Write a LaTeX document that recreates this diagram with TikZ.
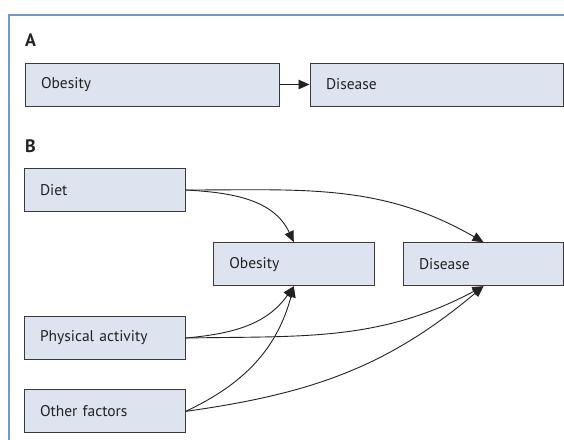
\documentclass[tikz,border=0pt]{standalone}
\usepackage{fontspec}
\setmainfont{PT Sans}
\usetikzlibrary{arrows.meta}
\definecolor{boxfill}{HTML}{DEE3F0}
\definecolor{boxline}{HTML}{3A3A3A}
\definecolor{framecol}{HTML}{6F9BD1}
\definecolor{txt}{HTML}{222222}
\begin{document}
\begin{tikzpicture}[x=1pt,y=-1pt,
  fbox/.style={draw=boxline,line width=1pt,fill=boxfill,minimum height=43pt,
    inner xsep=0pt,inner ysep=0pt,text=txt,font=\fontsize{15.5}{17}\selectfont},
  wbox/.style={fbox,minimum width=254pt,text width=222pt,align=left},
  nbox/.style={fbox,minimum width=161pt,text width=129pt,align=left},
  lab/.style={anchor=west,inner sep=0pt,text=txt,font=\fontsize{18}{20}\selectfont\bfseries},
  conn/.style={draw=txt,line width=0.9pt,-{Triangle[length=11pt,width=9.5pt]}}]
\useasboundingbox (0,0) rectangle (564,439);
\fill[white] (0,0) rectangle (564,439);
\draw[framecol,line width=1.6pt] (9,445) -- (9,15) -- (570,15);
\node[lab] (labA) at (25,40.5) {A};
\node[lab] (labB) at (25,146) {B};
\node[wbox] (obA) at (152,84.5) {Obesity};
\node[wbox,minimum width=253.5pt,text width=221.5pt] (disA) at (436.75,84.5) {Disease};
\node[nbox] (diet) at (104.5,190) {Diet};
\node[nbox] (obB) at (293.8,264.2) {Obesity};
\node[nbox,minimum width=160.5pt] (disB) at (483.5,264.2) {Disease};
\node[nbox] (phys) at (104.5,338) {Physical activity};
\node[nbox] (other) at (104.5,411.4) {Other factors};
\draw[conn] (obA) -- (disA);
\draw[conn] (diet.east) to[out=-3,in=115] (obB.north);
\draw[conn] (diet.east) to[out=0,in=150] (disB.north);
\draw[conn] (phys.east) to[out=5,in=-125] (obB.south);
\draw[conn] (phys.east) to[out=1,in=-152] (disB.south);
\draw[conn] (other.east) to[out=25,in=-105] (obB.south);
\draw[conn] (other.east) to[out=8,in=-140] (disB.south);
\end{tikzpicture}
\end{document}
